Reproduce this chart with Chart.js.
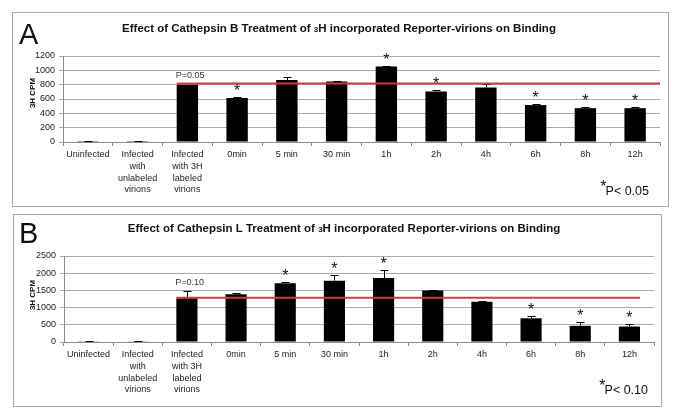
<!DOCTYPE html>
<html lang="en">
<head>
<meta charset="UTF-8">
<title>Cathepsin treatment of 3H reporter-virions</title>
<script src="https://cdn.jsdelivr.net/npm/chart.js"></script>
<style>
  body { margin: 0; background: #fff; }
  .panel { position: absolute; border: 1px solid #a8a8a8; background: #fff; }
  #panelA { left: 12px; top: 12px; width: 655px; height: 193px; }
  #panelB { left: 13px; top: 214px; width: 647px; height: 191px; }
</style>
</head>
<body>
<div class="panel" id="panelA"><canvas id="chartA" width="655" height="193"></canvas></div>
<div class="panel" id="panelB"><canvas id="chartB" width="647" height="191"></canvas></div>
<script>
// categories shared by both panels
const categories = [
  'Uninfected',
  ['Infected', 'with', 'unlabeled', 'virions'],
  ['Infected', 'with 3H', 'labeled', 'virions'],
  '0min', '5 min', '30 min', '1h', '2h', '4h', '6h', '8h', '12h'
];

// panel A - cathepsin B
const cathBValues = [12, 12, 800, 615, 865, 845, 1055, 705, 760, 515, 472, 472];
const cathBErrors = [8, 8, 0, 18, 45, 10, 12, 25, 50, 12, 20, 17];
const cathBStars = [0, 0, 0, 1, 0, 0, 1, 1, 0, 1, 1, 1];
const cathBRef = 815;
const cathBTicks = [0, 200, 400, 600, 800, 1000, 1200];

// panel B - cathepsin L
const cathLValues = [20, 20, 1270, 1390, 1710, 1780, 1860, 1500, 1170, 690, 470, 450];
const cathLErrors = [5, 5, 210, 25, 25, 170, 240, 5, 20, 55, 110, 60];
const cathLStars = [0, 0, 0, 0, 1, 1, 1, 0, 0, 1, 1, 1];
const cathLRef = 1285;
const cathLTicks = [0, 500, 1000, 1500, 2000, 2500];

const FONT = '"Liberation Sans", Arial, sans-serif';

const extrasPlugin = {
  id: 'extras',
  afterDatasetsDraw(chart, args, opts) {
    const ctx = chart.ctx;
    const y = chart.scales.y;
    const meta = chart.getDatasetMeta(0);
    const area = chart.chartArea;
    ctx.save();

    // error bars (upper only)
    ctx.strokeStyle = '#000';
    ctx.lineWidth = 1;
    meta.data.forEach((bar, i) => {
      if (!opts.errors[i]) return;
      const top = Math.round(y.getPixelForValue(opts.values[i] + opts.errors[i])) + 0.5;
      const bx = Math.round(bar.x) + 0.5;
      ctx.beginPath();
      ctx.moveTo(bx, bar.y);
      ctx.lineTo(bx, top);
      ctx.moveTo(bx - 4, top);
      ctx.lineTo(bx + 4, top);
      ctx.stroke();
    });

    // reference line
    const first = meta.data[2];
    const last = meta.data[meta.data.length - 1];
    const x0 = first.x - first.width / 2;
    const x1 = opts.lineToEdge ? area.right : last.x + last.width / 2;
    const ry = y.getPixelForValue(opts.ref);
    ctx.strokeStyle = '#d43b3b';
    ctx.lineWidth = 2;
    ctx.beginPath();
    ctx.moveTo(x0, ry);
    ctx.lineTo(x1, ry);
    ctx.stroke();

    // significance stars
    ctx.fillStyle = '#111';
    ctx.font = '16px ' + FONT;
    ctx.textAlign = 'center';
    ctx.textBaseline = 'alphabetic';
    meta.data.forEach((bar, i) => {
      if (!opts.stars[i]) return;
      const top = y.getPixelForValue(opts.values[i] + opts.errors[i]);
      ctx.fillText('*', bar.x, top - 1);
    });

    // P label over the labeled-virion bar
    const pTop = y.getPixelForValue(Math.max(opts.values[2] + opts.errors[2], opts.ref));
    ctx.fillStyle = '#333';
    ctx.font = '9px ' + FONT;
    ctx.textAlign = 'left';
    ctx.fillText(opts.pLabel, x0 - 1, pTop - 6);
    ctx.restore();
  },
  afterDraw(chart, args, opts) {
    const ctx = chart.ctx;
    ctx.save();
    ctx.fillStyle = '#111';
    ctx.textBaseline = 'alphabetic';

    // panel letter
    ctx.font = '29px ' + FONT;
    ctx.textAlign = 'left';
    ctx.fillText(opts.letter, opts.letterX, opts.letterY);

    // title with small "3"
    const parts = [
      ['bold 11.5px ' + FONT, opts.titleStart],
      ['bold 8px ' + FONT, '3'],
      ['bold 11.5px ' + FONT, opts.titleEnd]
    ];
    let total = 0;
    parts.forEach(p => { ctx.font = p[0]; total += ctx.measureText(p[1]).width; });
    let tx = opts.titleX - total / 2;
    parts.forEach(p => {
      ctx.font = p[0];
      ctx.fillText(p[1], tx, opts.titleY);
      tx += ctx.measureText(p[1]).width;
    });

    // y axis title
    ctx.save();
    ctx.translate(opts.yTitleX, opts.yTitleY);
    ctx.rotate(-Math.PI / 2);
    ctx.font = 'bold 8px ' + FONT;
    ctx.textAlign = 'center';
    ctx.textBaseline = 'middle';
    ctx.fillText('3H CPM', 0, 0);
    ctx.restore();

    // footnote
    ctx.font = '12.5px ' + FONT;
    ctx.textAlign = 'right';
    ctx.fillText(opts.note, opts.noteX, opts.noteY);
    const nw = ctx.measureText(opts.note).width;
    ctx.font = '16px ' + FONT;
    ctx.fillText('*', opts.noteX - nw + 1, opts.noteY - 3);
    ctx.restore();
  }
};

function makePanel(id, values, errors, stars, ref, ticks, yMax, step, extras, pad) {
  new Chart(document.getElementById(id), {
    type: 'bar',
    data: {
      labels: categories,
      datasets: [{
        data: values,
        backgroundColor: '#000',
        borderWidth: 0,
        categoryPercentage: 1,
        barPercentage: 0.43
      }]
    },
    options: {
      responsive: false,
      animation: false,
      devicePixelRatio: 1,
      layout: { padding: pad },
      plugins: {
        legend: { display: false },
        tooltip: { enabled: false },
        extras: Object.assign({ values, errors, stars, ref }, extras)
      },
      scales: {
        x: {
          grid: { drawOnChartArea: false, color: '#8c8c8c', tickLength: 4, offset: true },
          border: { color: '#8c8c8c' },
          ticks: {
            autoSkip: false, maxRotation: 0, padding: 3, color: '#222',
            font: { family: FONT, size: 9, lineHeight: 1.3 }
          },
          afterFit: s => { s.height = 64; }
        },
        y: {
          min: 0, max: yMax,
          grid: { color: '#ababab', tickLength: 4 },
          border: { color: '#8c8c8c' },
          ticks: {
            stepSize: step, padding: 4, color: '#222',
            font: { family: FONT, size: 9 },
            callback: v => ticks.includes(v) ? String(v) : ''
          },
          afterFit: s => { s.width = 50; }
        }
      }
    },
    plugins: [extrasPlugin]
  });
}

makePanel('chartA', cathBValues, cathBErrors, cathBStars, cathBRef, cathBTicks, 1200, 200, {
  lineToEdge: true, pLabel: 'P=0.05', letter: 'A', letterX: 6, letterY: 31,
  titleStart: 'Effect of Cathepsin B Treatment of ', titleEnd: 'H incorporated Reporter-virions on Binding',
  titleX: 326, titleY: 19, yTitleX: 20, yTitleY: 80,
  note: 'P< 0.05', noteX: 636, noteY: 182
}, { top: 43, right: 8, left: 0, bottom: 0 });

makePanel('chartB', cathLValues, cathLErrors, cathLStars, cathLRef, cathLTicks, 2500, 500, {
  lineToEdge: false, pLabel: 'P=0.10', letter: 'B', letterX: 5, letterY: 28,
  titleStart: 'Effect of Cathepsin L Treatment of ', titleEnd: 'H incorporated Reporter-virions on Binding',
  titleX: 330, titleY: 17, yTitleX: 19, yTitleY: 80,
  note: 'P< 0.10', noteX: 634, noteY: 179
}, { top: 41, right: 7, left: 0, bottom: 0 });
</script>
</body>
</html>
